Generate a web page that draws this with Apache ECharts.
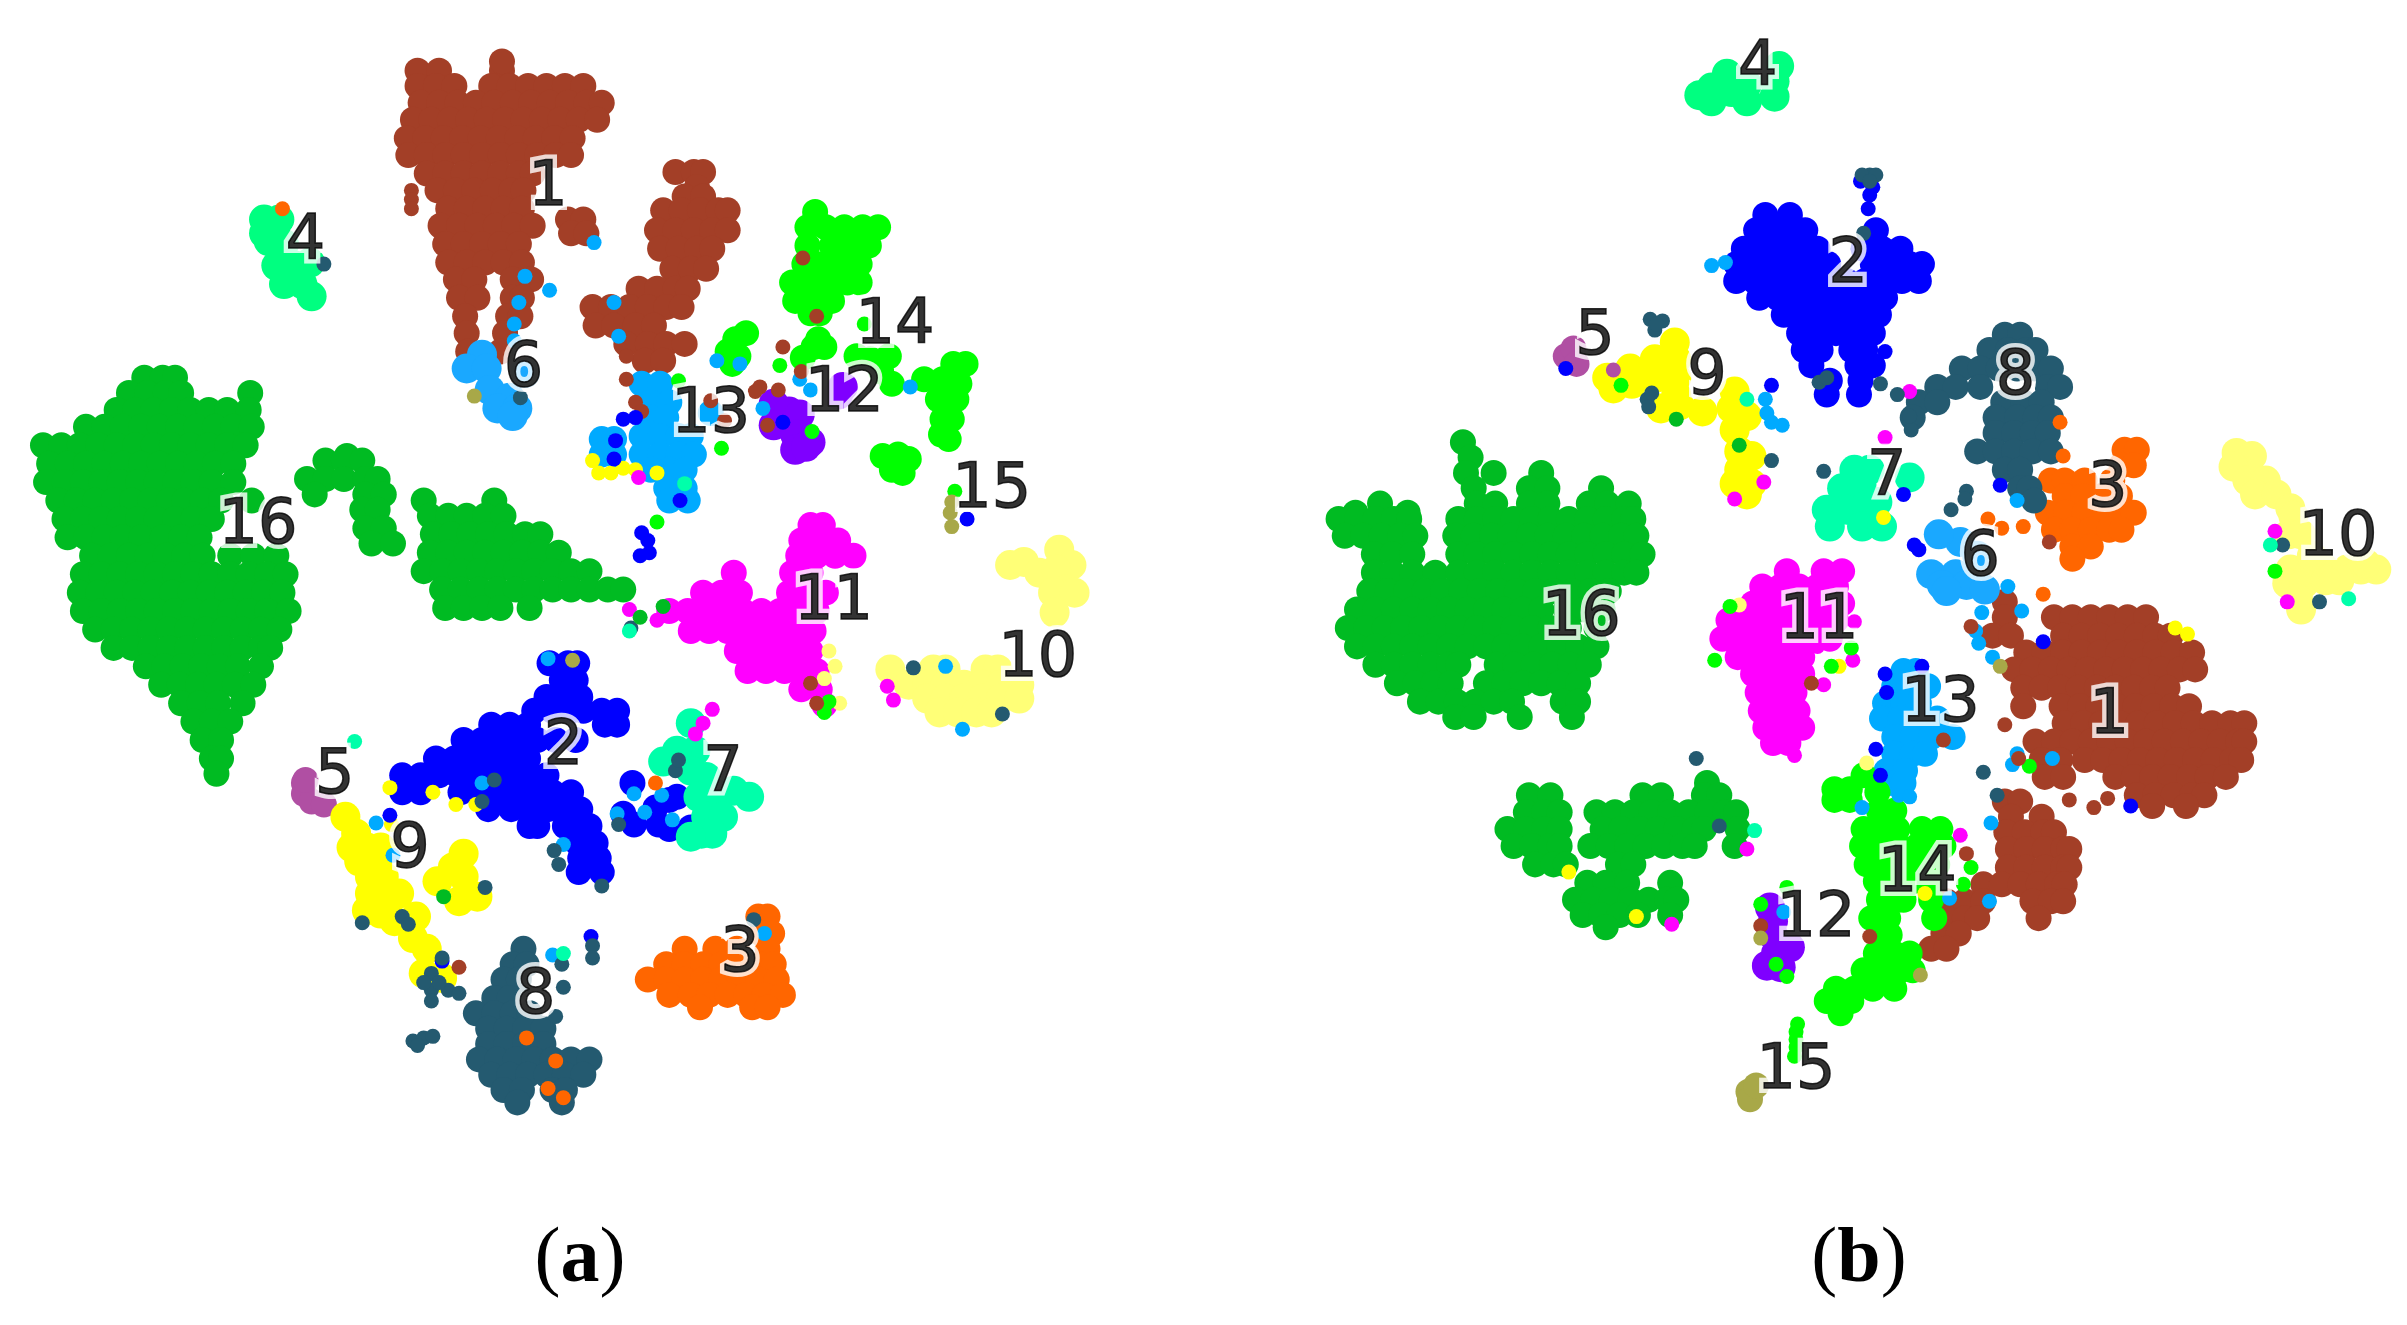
<!DOCTYPE html>
<html><head><meta charset="utf-8"><title>t-SNE clusters</title>
<style>html,body{margin:0;padding:0;background:#fff}#c{width:2407px;height:1325px}</style>
<script src="https://cdn.jsdelivr.net/npm/echarts@6/dist/echarts.min.js"></script></head>
<body><div id="c"></div><script>
// Dense clusters: each row is [y, x, x, x...]. Units: t-SNE plot units.
const brownA=[[46,272,286,327],[40,327],[56,272,284,296,320,332,344,356,368,380],[67,274,286,298,310,322,334,346,358,370,382,392],[78,269,281,293,305,317,329,341,353,365,377,389],[90,265,277,289,301,313,325,337,349,361,373],[101,266,278,290,302,314,326,338,350,362,372],[113,278,290,302,314,326,338,347],[124,285,297,309,321,333,341],[136,292,304,316,328,340],[143,370,380],[147,287,299,311,323,335,347],[152,372,382],[159,290,302,314,326,338],[171,292,304,316,328,340],[182,297,309,334,346],[194,299,311,334,340],[206,303,331,339],[217,304,329],[229,305,326],
[112,440,452,458],[122,454],[128,446,458],[137,432,444,456,468,474],[150,428,440,452,464,474],[162,430,442,454,464],[175,438,450,460],[188,416,428,440,448],[200,386,398,410,422,434,444],[212,388,400,414,426],[224,408,422,434,446],[235,420,432]];
const lightBlueA=[[250,418,430],[262,424,436],[272,424,434],[284,418,430,442,450],[296,418,430,442,452],[306,424,436,446],[318,434,446],[326,436,448],[269,463],[286,392,400],[296,392,400]];
const sixA=[[231,314],[240,304,317],[243,342],[254,319],[259,332],[266,324,337],[271,334]];
const limeA=[[138,531],[148,526,538,550,562,572],[160,526,542,554,566],[172,524,536,548,560],[184,516,528,540,552,560],[196,518,530,542],[204,528,534],[217,486],[221,479],[229,474],[232,481],[237,477],[221,533],[226,530,537],[233,523],[232,558,579],[234,567],[242,574],[250,581],[237,621,629],[247,602,614],[250,625],[260,611,623],[273,614,620],[283,613],[286,618],[296,585],[297,575],[299,592],[306,581],[308,588]];
const violetA=[[263,504],[268,514],[270,521],[277,504],[283,518],[288,528],[293,518],[291,525],[252,549],[257,546]];
const magentaA=[[342,528,536],[352,522,534,546],[362,520,532,544,556],[373,478,516,528],[386,458,470,482,514,526,538],[398,436,448,460,472,484,496,508,520,532],[411,450,462,474,486,498,510,522,530],[424,480,492,504,516,528],[437,487,499,511,523,532],[449,522,534],[459,537]];
const paleA=[[368,658],[366,667],[373,677],[358,690],[368,698],[371,688],[384,695],[386,686,700],[399,687],[436,580,608,616,642,650],[446,592,604,616,628,640,652,664],[455,604,616,628,640,652,664],[464,612,624,636,646]];
const forestA=[[246,94,106,114],[256,84,96,108,118,163],[267,76,88,100,112,124,136,148,162],[278,56,68,80,92,104,116,128,140,152,164],[290,28,40,52,64,76,88,100,112,124,136,148,160],[302,32,44,56,68,80,92,104,116,128,140,152],[314,30,42,54,66,78,90,102,114,126,138,152],[326,38,50,62,74,86,98,110,120,132,144,164],[338,42,54,66,78,90,102,114,126,138],[350,44,56,68,80,92,106,118,130],[362,60,72,84,96,108,120,132,150,165,180],[374,54,66,78,90,102,114,126,138,150,162,174,186],[386,52,64,76,88,100,112,124,136,148,160,172,184],[398,54,66,78,90,102,114,126,138,150,162,174,188],[410,62,74,86,98,110,122,134,146,158,170,182],[422,74,86,98,110,122,134,146,158,170,176],[434,95,107,119,131,143,155,170],[446,105,117,129,141,153,165],[458,118,130,142,158],[470,126,138,150],[482,132,144],[494,138,144],[504,141],
[297,226],[300,212,224,236],[312,200,212,224,238,246],[322,205,238,250],[332,236,246],[344,238,250],[354,242,256],
[326,276,322],[336,280,292,304,316,328],[348,282,294,306,318,330,342,352],[360,280,292,304,316,328,340,352,364],[372,276,288,300,312,324,336,348,360,372,384],[384,288,300,312,324,336,348,360,372,384,396,406],[396,290,302,314,326,345]];
const blueA=[[432,358,370,376],[443,366,375],[454,356,368,378],[463,348,360,372,380,392,402],[472,320,332,344,394,402],[482,302,314,326,338,350,362,375],[494,284,296,308,320,332,344],[505,262,274,286,298,310,322,334,346,356],[516,262,274,300,312,324,336,348,360,372],[527,318,333,345,357,369,378],[538,345,350,368,380,384],[549,376,388],[559,378,390],[568,377,392],[510,412],[519,441],[526,427],[521,436],[530,406],[537,413,429],[540,436],[539,450]];
const purpleA=[[510,198],[517,198],[522,203],[524,211],[508,199]];
const yellowA=[[532,225],[543,232],[552,229,239,248],[561,234,246],[571,241,250],[582,241,250,260],[593,239],[595,248],[600,257],[597,271],[611,269],[618,278],[634,276],[637,288],[556,302],[565,295],[571,302],[574,285],[587,299],[584,311]];
const darkA=[[618,341],[628,334,343],[638,328,338],[650,322,332],[660,310,322,334,345],[670,318,330,342,354],[680,318,330,342,354],[690,312,324,336,348,360,372,384],[700,320,332,344,356,368,380],[710,328,340,360,368],[718,337,366]];
const orangeA=[[597,494,500],[608,496,503],[618,446,466,480,500],[628,434,446,458,470,482,495,504],[638,422,434,446,458,470,482,494,506],[648,436,450,462,474,486,498,510],[656,456,490,500]];
const mint7A=[[489,453,441],[502,450],[506,460],[519,455,488],[521,467],[515,478],[532,460,471],[543,457,464],[545,450],[496,432],[471,450]];
const mint4A=[[143,172,182],[152,172],[157,175],[159,185],[173,180,192],[171,202],[185,185,197],[193,203]];
// Sparse single points: [x, y]
const brownDotsA=[[268,124],[268,130],[268,136],[523,168],[532,206],[510,226],[495,252],[507,254],[492,255],[522,242],[500,277],[408,232],[408,247],[414,262],[418,268],[463,261],[472,274],[528,445],[532,458],[299,630]];
const lightBlueDotsA=[[357,429],[314,510],[245,536],[256,557],[338,197],[335,211],[342,180],[358,189],[335,222],[387,158],[400,197],[403,219],[467,235],[482,237],[593,252],[497,266],[521,247],[528,254],[616,434],[627,475],[360,622],[367,550],[413,517],[420,529],[431,518],[402,530],[438,534],[498,608]];
const limeDotsA=[[428,340],[470,292],[442,248],[508,238],[622,320],[529,281],[540,457],[537,464],[563,211]];
const blueDotsA=[[406,273],[414,272],[401,287],[400,299],[443,326],[418,347],[422,352],[417,362],[423,360],[510,275],[254,531],[288,626],[385,610],[630,338]];
const yellowDotsA=[[386,300],[390,308],[398,308],[406,305],[414,306],[428,308],[254,513],[282,516],[297,524],[310,524],[255,537]];
const paleDotsA=[[540,424],[544,434],[537,442],[547,458]];
const magentaDotsA=[[416,311],[428,404],[410,397],[582,456],[578,447],[464,462],[458,471],[453,478]];
const darkDotsA=[[322,508],[314,522],[361,554],[364,563],[392,577],[316,578],[236,601],[262,597],[266,602],[269,678],[276,676],[282,675],[272,681],[281,634],[281,645],[292,645],[281,652],[299,647],[288,624],[286,640],[276,640],[366,628],[386,616],[386,624],[367,643],[362,662],[411,409],[595,435],[653,465],[211,172],[339,259],[440,502],[442,495],[491,599],[403,537]];
const orangeDotsA=[[343,676],[362,691],[357,709],[367,715],[427,510],[184,136]];
const forestDotsA=[[432,395],[417,402],[289,584]];
const oliveDotsA=[[620,327],[619,334],[620,343],[309,258],[373,430]];
const mintDotsA=[[231,483],[446,315],[410,411],[367,621]];

const brownB=[[392,1306],[402,1306,1338,1350,1362,1374,1386,1398],[414,1298,1310,1344,1356,1368,1380,1392,1404,1414],[425,1320,1332,1344,1356,1368,1380,1392,1404,1416,1428],[436,1312,1324,1336,1348,1360,1372,1384,1396,1408,1420,1430],[448,1318,1330,1342,1354,1366,1378,1390,1402,1412],[460,1318,1343,1355,1367,1379,1391,1403,1415,1426],[471,1345,1357,1369,1381,1393,1405,1417,1429,1441,1453,1462],[483,1326,1338,1350,1362,1374,1386,1398,1410,1422,1434,1446,1458,1462],[495,1330,1342,1358,1370,1382,1394,1406,1418,1430,1442,1454,1460],[506,1332,1344,1378,1390,1402,1414,1426,1438,1450],[518,1392,1404,1416,1428,1436],[525,1402,1424],
[522,1306,1316],[532,1310,1330],[542,1307,1319,1331,1338],[553,1308,1320,1332,1344,1348],[565,1308,1320,1332,1344,1348],[576,1292,1304,1316,1328,1340,1345],[587,1268,1280,1292,1324,1336,1344],[598,1268,1280,1288,1328],[608,1266,1276],[618,1258,1268]];
const blueB=[[140,1150,1166],[150,1144,1156,1168,1176,1222],[162,1136,1148,1160,1172,1184,1214,1226,1238],[172,1131,1143,1155,1167,1179,1191,1220,1232,1244,1252],[183,1131,1143,1155,1167,1179,1191,1203,1215,1227,1239,1250],[194,1146,1158,1170,1182,1194,1206,1218,1228],[205,1162,1174,1186,1198,1210,1224],[217,1172,1184,1196,1208,1220],[228,1175,1186,1206,1215],[238,1180,1210,1220],[248,1192,1212],[257,1190,1211]];
const orangeB=[[293,1384,1392],[303,1382,1390],[313,1336,1345,1358,1376],[323,1345,1357,1369,1381],[334,1334,1346,1358,1370,1382,1390],[345,1338,1350,1362,1374,1382],[356,1350,1362],[364,1350]];
const mint4B=[[62,1107],[57,1115],[66,1115],[48,1125],[60,1128],[66,1138],[55,1138],[53,1156],[63,1156],[43,1159]];
const purpleB=[[232,1020],[227,1025],[237,1027]];
const sixB=[[374,1258,1274],[381,1265,1281],[385,1268],[353,1277],[348,1263],[384,1293],[362,1288]];
const mint7B=[[306,1208,1218],[318,1200,1213],[332,1190,1203],[329,1216],[343,1192,1213,1226],[327,1223],[311,1244]];
const darkB=[[218,1306,1316],[228,1296,1308,1320,1326],[240,1278,1290,1302,1314,1326,1336],[252,1262,1274,1290,1334,1342],[262,1250,1262,1305,1318,1330],[272,1246,1300,1314,1326,1336],[282,1300,1312,1324,1334],[294,1288,1300,1312,1324,1336],[306,1306,1316],[318,1316,1322],[326,1325]];
const yellowB=[[246,1047,1079,1092],[253,1051],[240,1062],[250,1063],[234,1078,1092],[223,1091],[257,1092],[266,1082],[264,1094],[268,1109],[255,1130],[266,1128],[271,1138],[280,1130],[294,1133],[297,1141],[306,1133],[315,1130,1141],[322,1138]];
const paleB=[[295,1457],[297,1467],[304,1455],[313,1464,1476],[322,1469,1483],[331,1492],[336,1494],[348,1491,1499],[371,1492,1515,1529,1538,1548],[374,1504],[380,1490,1501],[397,1499],[390,1497],[378,1524,1515],[362,1506],[367,1541]];
const magentaB=[[372,1164,1188,1200],[382,1148,1160,1172,1184,1196],[393,1142,1154,1166,1178,1190,1200],[404,1126,1138,1150,1162,1174,1186,1196],[416,1122,1134,1146,1158,1170,1182,1192],[428,1132,1144,1156,1168,1174],[439,1142,1154,1166,1174],[451,1145,1157,1169],[463,1147,1159,1171],[474,1150,1162,1174],[484,1155,1165]];
const violetB=[[591,1153],[600,1155],[609,1155],[621,1157],[629,1151],[630,1160],[617,1166]];
const lightBlueB=[[437,1240,1248],[447,1234,1246,1256],[458,1228,1240,1250],[468,1226,1238,1250,1262],[480,1234,1246,1258,1272],[491,1234,1246,1254],[502,1229,1241],[510,1231,1240]];
const limeB=[[514,1195,1205],[521,1195,1205],[505,1214],[516,1223],[528,1224,1234],[540,1214,1226,1236,1252,1264],[551,1213,1225,1237,1249,1261,1266],[563,1216,1228,1240,1252,1262],[574,1222,1234,1246,1258],[586,1224,1236,1240,1258],[598,1219,1230,1260],[609,1224,1231],[621,1222,1234,1244],[632,1214,1226,1238,1246],[644,1196,1208,1220,1234],[652,1190,1196,1206],[660,1199]];
const olive15B=[[711,1139],[716,1140],[707,1144]];
const forestB=[[288,953],[298,958],[308,955,973,1004],[318,960,996,1008,1043],[328,899,962,974,996,1008,1035,1047,1061],[334,883,917],[338,872,884,896,908,918,950,962,974,986,998,1010,1022,1034,1046,1058,1064],[349,876,888,900,912,922,948,960,972,984,996,1008,1020,1032,1044,1056,1066],[361,895,907,920,950,962,974,986,998,1010,1022,1034,1046,1058,1070],[373,895,907,920,935,950,962,974,986,998,1010,1022,1034,1046,1058,1066],[385,892,904,916,928,940,952,964,976,988,1000,1012,1024,1036,1048],[397,884,896,908,920,932,944,956,968,980,992,1004,1020,1032,1044],[409,878,890,902,914,926,938,950,962,974,986,998,1010,1022,1040],[421,884,896,908,920,932,944,956,968,980,992,1004,1016,1028,1040],[433,896,908,920,932,944,950,975,987,999,1011,1023,1035],[445,910,922,934,945,968,980,992,1004,1016,1028],[457,925,937,949,961,973,985,1018,1028],[467,948,960,990,1024],
[510,1112],[518,996,1010,1070,1082,1110,1120],[529,994,1006,1016,1040,1052,1064,1076,1088,1100,1112,1124,1131],[540,982,994,1006,1016,1044,1056,1068,1080,1092,1104,1110,1132],[551,986,998,1010,1016,1036,1048,1060,1072,1084,1096,1104,1130],[563,1000,1012,1020,1054,1064],[575,1034,1046,1060,1088],[586,1026,1038,1050,1062,1074,1086,1092],[596,1031,1043,1055,1067,1088],[604,1046]];
const brownDotsB=[[1306,472],[1348,521],[1364,526],[1373,520],[1284,408],[1315,494],[1281,556],[1218,610],[1266,482],[1335,353],[1180,445],[1147,603]];
const lightBlueDotsB=[[1115,173],[1124,171],[1150,260],[1151,269],[1161,277],[1154,275],[1308,382],[1291,399],[1287,411],[1289,419],[1317,398],[1298,428],[1314,491],[1311,498],[1337,494],[1297,536],[1296,587],[1270,585],[1314,326],[1237,518],[1244,519],[1213,526],[1162,594]];
const limeDotsB=[[1056,251],[1322,499],[1284,565],[1279,576],[1482,372],[1127,395],[1117,430],[1193,434],[1206,422],[1157,628],[1164,636],[1164,578],[1147,589],[1171,667],[1170,677],[1169,688],[1170,672],[1170,682]];
const blueDotsB=[[1128,184],[1212,118],[1218,127],[1217,136],[1220,122],[1228,229],[1020,240],[1154,251],[1240,322],[1303,316],[1247,355],[1250,358],[1331,418],[1388,525],[1252,434],[1228,439],[1229,451],[1222,488],[1225,505]];
const yellowDotsB=[[1417,409],[1425,413],[1254,582],[1227,337],[1198,434],[1066,597],[1022,568]];
const paleDotsB=[[1216,497],[1133,394]];
const magentaDotsB=[[1244,255],[1149,314],[1130,325],[1228,285],[1482,346],[1490,392],[1277,544],[1169,492],[1188,446],[1208,405],[1207,430],[1184,421],[1138,553],[1089,602]];
const darkDotsB=[[1218,114],[1213,114],[1222,114],[1218,118],[1214,152],[1185,249],[1190,246],[1225,250],[1236,257],[1075,208],[1083,209],[1078,215],[1079,211],[1073,260],[1074,265],[1076,256],[1154,300],[1188,307],[1245,280],[1244,271],[1281,320],[1280,325],[1271,332],[1487,355],[1511,392],[1292,503],[1301,518],[1105,494],[1120,538]];
const orangeDotsB=[[1295,338],[1304,344],[1318,343],[1344,297],[1342,275],[1331,387]];
const forestDotsB=[[1092,273],[1133,290]];
const oliveDotsB=[[1303,434],[1251,635],[1147,611]];
const mintDotsB=[[1138,260],[1479,355],[1530,390],[1143,541]];
const purpleDotsB=[[1051,241]];

const labelsA=[['1',357,123],['4',199,158],['6',341,241],['13',463,271],['12',550,257],['14',583,213],['15',646,320],['16',168,343],['11',543,393],['10',676,430],['2',367,487],['5',218,506],['9',267,554],['7',471,504],['3',482,622],['8',349,649]];
const labelsB=[['4',1145,45],['2',1204,173],['5',1039,220],['9',1112,246],['8',1313,246],['7',1229,311],['3',1373,319],['6',1290,364],['10',1523,351],['16',1030,403],['11',1185,405],['13',1264,459],['1',1374,467],['14',1249,570],['12',1183,599],['15',1170,698]];

const C={brown:'#a33f27',blue:'#0000ff',orange:'#ff6600',mint4:'#00ff80',purple:'#b04fa3',six:'#1aa8ff',mint7:'#00ffaa',dark:'#245a70',yellow:'#ffff00',pale:'#ffff77',magenta:'#ff00ff',violet:'#7f00ff',lb:'#00aaff',lime:'#00ff00',olive:'#a8a848',forest:'#00bb22'};
const rows=r=>r.flatMap(a=>a.slice(1).map(x=>[x,a[0]]));
const CORE=26,LOOSE=30,DOT=15;
const series=[];
function add(grid,color,data,size){series.push({type:'scatter',xAxisIndex:grid,yAxisIndex:grid,data:data,symbol:'circle',symbolSize:size,itemStyle:{color:color,opacity:1},silent:true,clip:false,progressive:0,large:false});}
[[C.forest,forestA,CORE],[C.brown,brownA,CORE],[C.lb,lightBlueA,CORE],[C.six,sixA,LOOSE],[C.lime,limeA,CORE],[C.violet,violetA,LOOSE],[C.magenta,magentaA,CORE],[C.pale,paleA,LOOSE],[C.blue,blueA,CORE],[C.purple,purpleA,CORE],[C.yellow,yellowA,LOOSE],[C.dark,darkA,CORE],[C.orange,orangeA,CORE],[C.mint7,mint7A,LOOSE],[C.mint4,mint4A,LOOSE]].forEach(p=>add(0,p[0],rows(p[1]),p[2]));
[[C.yellow,yellowDotsA],[C.pale,paleDotsA],[C.magenta,magentaDotsA],[C.lb,lightBlueDotsA],[C.lime,limeDotsA],[C.brown,brownDotsA],[C.blue,blueDotsA],[C.dark,darkDotsA],[C.orange,orangeDotsA],[C.forest,forestDotsA],[C.olive,oliveDotsA],[C.mint7,mintDotsA]].forEach(p=>add(0,p[0],p[1],DOT));
[[C.forest,forestB,CORE],[C.brown,brownB,CORE],[C.blue,blueB,CORE],[C.orange,orangeB,CORE],[C.mint4,mint4B,LOOSE],[C.purple,purpleB,CORE],[C.six,sixB,LOOSE],[C.mint7,mint7B,LOOSE],[C.dark,darkB,CORE],[C.yellow,yellowB,LOOSE],[C.pale,paleB,LOOSE],[C.magenta,magentaB,CORE],[C.violet,violetB,LOOSE],[C.lb,lightBlueB,CORE],[C.lime,limeB,CORE],[C.olive,olive15B,CORE]].forEach(p=>add(1,p[0],rows(p[1]),p[2]));
[[C.yellow,yellowDotsB],[C.pale,paleDotsB],[C.magenta,magentaDotsB],[C.lb,lightBlueDotsB],[C.lime,limeDotsB],[C.brown,brownDotsB],[C.blue,blueDotsB],[C.dark,darkDotsB],[C.orange,orangeDotsB],[C.forest,forestDotsB],[C.olive,oliveDotsB],[C.mint7,mintDotsB],[C.purple,purpleDotsB]].forEach(p=>add(1,p[0],p[1],DOT));
function labels(grid,list){
 [{color:'#fff',textBorderColor:'#fff',textBorderWidth:10,z:10},{color:'#000',textBorderColor:'#000',textBorderWidth:1.5,z:11}].forEach(s=>{
  series.push({type:'scatter',xAxisIndex:grid,yAxisIndex:grid,z:s.z,silent:true,clip:false,symbolSize:1,itemStyle:{color:'transparent'},
   data:list.map(l=>({value:[l[1],l[2]],name:l[0]})),
   label:{show:true,position:'inside',formatter:'{b}',fontFamily:'DejaVu Sans',fontSize:62,color:s.color,textBorderColor:s.textBorderColor,textBorderWidth:s.textBorderWidth},labelLayout:{hideOverlap:false}});
 });
}
labels(0,labelsA);labels(1,labelsB);
const axisOff={show:false,scale:false};
const chart=echarts.init(document.getElementById('c'),null,{renderer:'canvas'});
const cap=(t,x)=>({text:'{n|(}{b|'+t+'}{n|)}',left:x,top:1222,textAlign:'center',padding:0,textStyle:{fontWeight:'normal',rich:{n:{fontFamily:'Liberation Serif',fontWeight:'normal',fontSize:78,color:'#000'},b:{fontFamily:'Liberation Serif',fontWeight:'bold',fontSize:78,color:'#000'}}}});
chart.setOption({animation:false,backgroundColor:'#fff',
 title:[cap('a',580),cap('b',1859)],
 grid:[{left:0,top:0,width:1203.5,height:1325},{left:1203.5,top:0,width:1203.5,height:1325}],
 xAxis:[{...axisOff,type:'value',gridIndex:0,min:0,max:784},{...axisOff,type:'value',gridIndex:1,min:784,max:1568}],
 yAxis:[{...axisOff,type:'value',gridIndex:0,min:0,max:863,inverse:true},{...axisOff,type:'value',gridIndex:1,min:0,max:863,inverse:true}],
 series:series});
</script></body></html>
